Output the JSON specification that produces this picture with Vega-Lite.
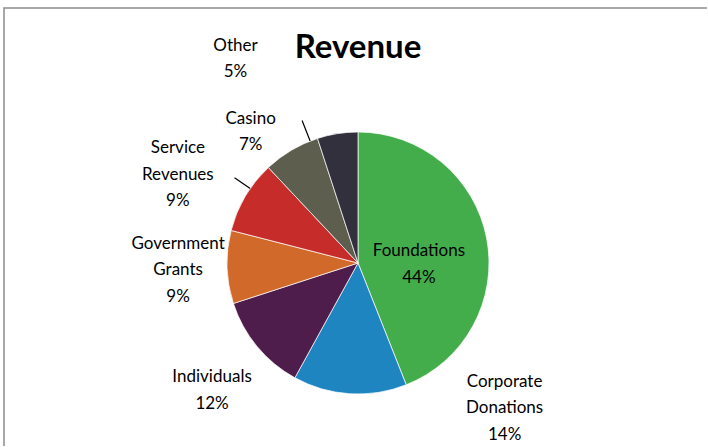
{
  "$schema": "https://vega.github.io/schema/vega-lite/v6.json",
  "width": 700,
  "height": 368,
  "autosize": {"type": "none"},
  "padding": {"left": 8, "top": 79, "right": 0, "bottom": 0},
  "background": "white",
  "title": {
    "text": "Revenue",
    "font": "Lato",
    "fontSize": 33,
    "fontWeight": "bold",
    "color": "black",
    "anchor": "middle",
    "baseline": "alphabetic",
    "offset": 0,
    "dy": 84
  },
  "config": {
    "view": {"stroke": null},
    "text": {"font": "Lato", "fontSize": 17, "lineHeight": 26.5, "color": "black", "align": "center", "baseline": "middle"}
  },
  "datasets": {
    "slices": [
      {"order": 1, "name": "Foundations", "share": 44, "lines": ["Foundations", "44%"]},
      {"order": 2, "name": "Corporate Donations", "share": 14, "lines": ["Corporate", "Donations", "14%"]},
      {"order": 3, "name": "Individuals", "share": 12, "lines": ["Individuals", "12%"]},
      {"order": 4, "name": "Government Grants", "share": 9, "lines": ["Government", "Grants", "9%"]},
      {"order": 5, "name": "Service Revenues", "share": 9, "lines": ["Service", "Revenues", "9%"]},
      {"order": 6, "name": "Casino", "share": 7, "lines": ["Casino", "7%"]},
      {"order": 7, "name": "Other", "share": 5, "lines": ["Other", "5%"]}
    ],
    "frame": [{"frame": "chart area"}]
  },
  "layer": [
    {
      "data": {"name": "frame"},
      "mark": {"type": "rect", "fill": "transparent", "stroke": "#8c8c8c", "strokeWidth": 1.5, "strokeDash": [703, 1141, 438]},
      "encoding": {
        "x": {"value": -4},
        "x2": {"value": 699},
        "y": {"value": -71},
        "y2": {"value": 367}
      }
    },
    {
      "data": {"name": "slices"},
      "layer": [
        {
          "mark": {"type": "arc", "outerRadius": 131, "stroke": "white", "strokeWidth": 0.7},
          "encoding": {
            "theta": {"field": "share", "type": "quantitative", "stack": true},
            "order": {"field": "order", "type": "quantitative"},
            "color": {
              "field": "name",
              "type": "nominal",
              "scale": {
                "domain": ["Foundations", "Corporate Donations", "Individuals", "Government Grants", "Service Revenues", "Casino", "Other"],
                "range": ["#43ad4b", "#1e85c1", "#4e1d4c", "#d1692a", "#c62d2a", "#5e5e4f", "#33303e"]
              },
              "legend": null
            }
          }
        },
        {
          "mark": {"type": "arc", "innerRadius": 131, "outerRadius": 153, "padAngle": 3, "thetaOffset": 0.16, "theta2Offset": 0.16, "fill": "transparent", "stroke": "black", "strokeWidth": 1.2},
          "encoding": {
            "theta": {"field": "share", "type": "quantitative", "stack": true},
            "order": {"field": "order", "type": "quantitative"},
            "strokeOpacity": {"condition": {"test": "datum.name === 'Casino'", "value": 1}, "value": 0}
          }
        },
        {
          "mark": {"type": "arc", "innerRadius": 131, "outerRadius": 150, "padAngle": 3, "thetaOffset": 0.07, "theta2Offset": 0.07, "fill": "transparent", "stroke": "black", "strokeWidth": 1.2},
          "encoding": {
            "theta": {"field": "share", "type": "quantitative", "stack": true},
            "order": {"field": "order", "type": "quantitative"},
            "strokeOpacity": {"condition": {"test": "datum.name === 'Service Revenues'", "value": 1}, "value": 0}
          }
        },
        {
          "mark": {"type": "text", "radius": 62, "dy": 0},
          "encoding": {
            "theta": {"field": "share", "type": "quantitative", "stack": true},
            "order": {"field": "order", "type": "quantitative"},
            "text": {"condition": {"test": "datum.name === 'Foundations'", "field": "lines"}, "value": ""}
          }
        },
        {
          "mark": {"type": "text", "radius": 150, "dx": 156, "dy": -31},
          "encoding": {
            "theta": {"field": "share", "type": "quantitative", "stack": true},
            "order": {"field": "order", "type": "quantitative"},
            "text": {"condition": {"test": "datum.name === 'Corporate Donations'", "field": "lines"}, "value": ""}
          }
        },
        {
          "mark": {"type": "text", "radius": 192, "dx": 2, "dy": -8},
          "encoding": {
            "theta": {"field": "share", "type": "quantitative", "stack": true},
            "order": {"field": "order", "type": "quantitative"},
            "text": {"condition": {"test": "datum.name === 'Individuals'", "field": "lines"}, "value": ""}
          }
        },
        {
          "mark": {"type": "text", "radius": 180, "dy": -25},
          "encoding": {
            "theta": {"field": "share", "type": "quantitative", "stack": true},
            "order": {"field": "order", "type": "quantitative"},
            "text": {"condition": {"test": "datum.name === 'Government Grants'", "field": "lines"}, "value": ""}
          }
        },
        {
          "mark": {"type": "text", "radius": 200, "dx": -8, "dy": -13},
          "encoding": {
            "theta": {"field": "share", "type": "quantitative", "stack": true},
            "order": {"field": "order", "type": "quantitative"},
            "text": {"condition": {"test": "datum.name === 'Service Revenues'", "field": "lines"}, "value": ""}
          }
        },
        {
          "mark": {"type": "text", "radius": 150, "dx": -31, "dy": -15},
          "encoding": {
            "theta": {"field": "share", "type": "quantitative", "stack": true},
            "order": {"field": "order", "type": "quantitative"},
            "text": {"condition": {"test": "datum.name === 'Casino'", "field": "lines"}, "value": ""}
          }
        },
        {
          "mark": {"type": "text", "radius": 208, "dx": -90, "dy": -12},
          "encoding": {
            "theta": {"field": "share", "type": "quantitative", "stack": true},
            "order": {"field": "order", "type": "quantitative"},
            "text": {"condition": {"test": "datum.name === 'Other'", "field": "lines"}, "value": ""}
          }
        }
      ]
    }
  ]
}
